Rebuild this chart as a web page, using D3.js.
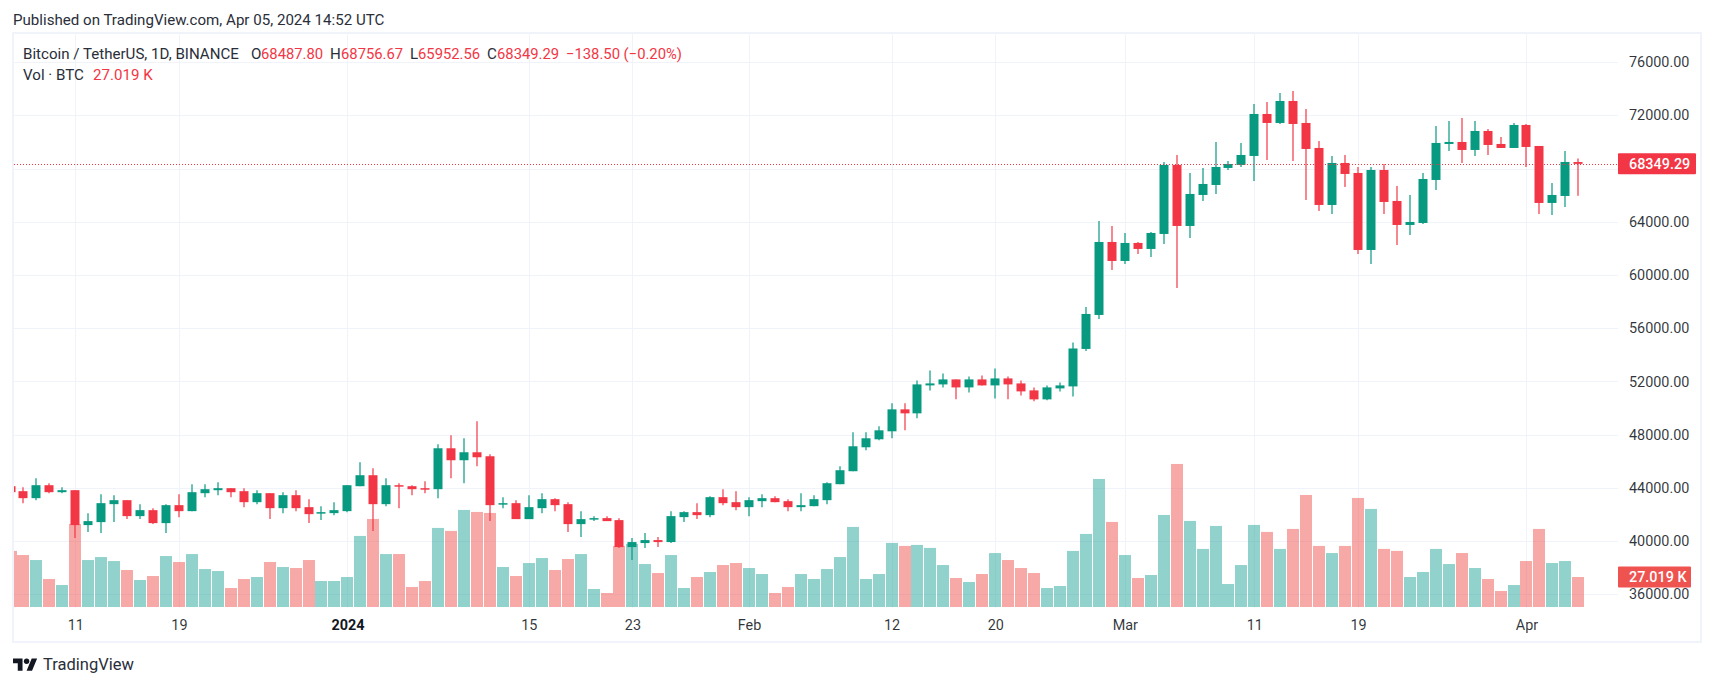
<!DOCTYPE html>
<html><head><meta charset="utf-8">
<script src="https://cdnjs.cloudflare.com/ajax/libs/d3/7.8.5/d3.min.js"></script>
<style>html,body{margin:0;padding:0;background:#fff;overflow:hidden}svg{display:block}text{font-family:Roboto,sans-serif}</style>
</head><body><svg id="c" width="1713" height="686"></svg>
<script>
const firstDay = "2023-12-06";
const opens = [
44125,43750,43225,44200,43675,43825,41200,41425,42775,43075,41875,42325,41350,42700,42250,43600,43825,43975,43750,42925,43600,42475,43450,42550,42100,42100,42250,44125,44950,42775,44200,44125,43975,
43900,46975,46075,46675,46375,42775,42850,41650,42475,43150,42775,41275,41650,41725,41575,39550,39850,40075,39925,41800,42175,41950,43300,42925,42550,43000,43225,43000,42550,42625,43075,44275,45250,
47050,47650,48250,49900,49600,51700,51775,52150,51550,52150,51700,52225,51850,51325,50650,51475,51625,
54440,56995,62480,61053,62406,61955,63082,68267,63683,66013,66764,68042,68267,68944,72100,71424,73077,71424,69545,65261,68418,67666,61879,67891,65562,63758,63908,67140,69846,69996,69395,70822,69846,69545,71273,69695,65412,65938,68487.80];
const highs = [
44150,44050,44725,44350,44050,43825,42100,43525,43450,43075,42775,42475,42775,43525,44275,44275,44425,43975,43975,43825,43600,43675,43825,43150,42625,42925,44200,45925,45475,44725,44350,44200,44500,
47275,47950,47725,49000,46525,43300,43075,43450,43600,43225,42925,42250,41875,41875,41725,40225,40600,40300,42250,42250,42850,43375,43900,43750,43300,43525,43375,43150,43600,43450,44425,45625,48175,
48175,48625,50350,50350,52075,52825,52600,52150,52375,52450,52975,52375,52075,51550,51700,51925,54925,
57595,64060,63683,63157,62480,63232,68493,69019,67666,68042,69996,68568,69921,72851,73002,73678,73828,72476,70071,68944,69019,68117,68117,68342,66689,66013,67666,71198,71574,71799,71574,70973,70371,71424,71348,69695,66915,69319,68756.67];
const lows = [
43650,42850,43075,43600,43600,40225,40675,40600,41425,41650,41650,41275,40600,41800,42250,43300,43450,43300,42550,42775,41650,42100,42250,41350,41575,41950,42175,44125,40750,42625,42475,43450,43600,
43225,44725,44350,45625,41500,42475,41650,41650,42100,42250,40675,40300,41500,41500,39475,38575,39475,39550,39850,41425,41650,41800,42700,42325,41875,42550,42925,42250,42250,42625,42775,44275,45250,
46825,47575,47725,48325,49225,51325,51550,50650,51175,51700,50725,50650,50950,50500,50575,51250,50875,
54290,56695,60376,60827,61579,61353,62330,59024,62781,65562,66088,67891,68117,67065,68643,71348,68568,65637,64810,64585,66614,61579,60827,64585,62255,63007,63833,66388,69319,68418,68944,69019,69545,69545,68117,64585,64510,65111,65952.56];
const closes = [
43675,43225,44200,43675,43825,41200,41500,42850,43075,41875,42325,41350,42700,42250,43675,43900,43975,43675,42925,43600,42475,43450,42475,42025,42175,42325,44200,44950,42775,44200,44125,43900,43900,
46975,46075,46675,46300,42700,42850,41650,42550,43150,42700,41275,41650,41725,41500,39550,39925,40075,39925,41875,42175,41950,43300,42850,42550,43075,43225,42925,42550,42700,43150,44350,45325,47125,
47725,48325,49900,49600,51775,51850,52150,51550,52150,51700,52225,51775,51250,50650,51550,51700,54475,
57070,62480,61053,62406,61955,63157,68267,63683,66088,66839,68117,68342,69019,72100,71424,73077,71348,69470,65261,68418,67591,61879,67891,65487,63758,63984,67215,69921,69996,69395,70822,69770,69545,71273,69620,65412,66013,68493,68349.29];
const volumes = [
50.5,46.8,42.3,25.2,19.8,74.8,42.3,45.0,41.4,33.3,24.3,27.9,45.9,40.5,47.7,34.2,32.4,17.1,25.2,27.0,40.5,36.0,35.1,42.3,23.4,23.4,27.0,64.0,79.3,47.7,47.7,18.0,23.4,
71.2,68.5,87.4,85.6,84.7,36.0,27.9,39.6,44.1,33.3,43.2,47.7,16.2,12.6,55.0,56.8,38.7,30.6,46.8,17.1,27.0,31.5,37.8,39.6,35.1,29.7,12.6,18.0,29.7,25.2,34.2,45.0,72.1,
25.2,29.7,57.7,55.0,55.9,53.2,37.8,26.1,22.5,29.7,48.6,42.3,35.1,30.6,17.1,18.9,50.5,
65.8,115.3,76.6,46.8,26.1,28.8,82.9,128.8,77.5,52.3,73.0,20.7,37.8,73.9,67.6,52.3,70.3,100.9,55.0,48.6,55.0,98.2,88.3,52.3,50.5,27.0,31.5,52.3,38.7,48.6,35.1,25.2,14.4,19.8,41.4,70.3,39.6,41.4,27.019];
const priceTicks = [36000,40000,44000,48000,52000,56000,60000,64000,68000,72000,76000];
const timeTickDates = ["2023-12-11","2023-12-19","2024-01-01","2024-01-15","2024-01-23","2024-02-01","2024-02-12","2024-02-20","2024-03-01","2024-03-11","2024-03-19","2024-04-01"];
const timeTickLabels = ["11","19","2024","15","23","Feb","12","20","Mar","11","19","Apr"];
const lastClose = 68349.29;
const lastVolumeLabel = "27.019 K";

const GREEN="#089981", RED="#F23645", GRID="#F0F3FA", INK="#131722";
const frame={l:14,r:1700,t:34,b:641,axis:1618};
const svg=d3.select("#c");
const day=86400000, t0=Date.parse(firstDay+"T00:00:00Z");
const dateOf=i=>new Date(t0+i*day);
const x=d3.scaleUtc().domain([new Date("2023-12-11T00:00:00Z"),new Date("2024-04-05T00:00:00Z")]).range([75.3,1578.3]);
const y=d3.scaleLinear().domain([36000,72000]).range([594.3,115.3]);
const v=d3.scaleLinear().domain([0,27.019]).range([607,577]);
const bars=d3.range(opens.length).map(i=>({d:dateOf(i),o:opens[i],h:highs[i],l:lows[i],c:closes[i],v:volumes[i],up:closes[i]>=opens[i]}));

svg.append("defs").append("clipPath").attr("id","plot").append("rect")
  .attr("x",frame.l).attr("y",frame.t).attr("width",frame.axis-frame.l).attr("height",frame.b-frame.t);

const tickDates=timeTickDates.map(s=>new Date(s+"T00:00:00Z"));
const gy=svg.append("g").attr("transform",`translate(${frame.axis},0)`)
  .call(d3.axisRight(y).tickValues(priceTicks).tickFormat(d=>d3.format(".2f")(d)).tickSize(0).tickPadding(11));
gy.select(".domain").remove();
gy.selectAll("text").attr("fill",INK).attr("fill-opacity",.88).style("font-size","14.4px").style("font-family","Roboto,sans-serif");
gy.selectAll(".tick").filter(d=>d===68000).select("text").remove(); // hidden behind the last-price tag in the reference
gy.selectAll(".tick").append("line").attr("x1",frame.l-frame.axis).attr("x2",0).attr("stroke",GRID).attr("stroke-width",1).attr("shape-rendering","crispEdges");
const gx=svg.append("g").attr("transform",`translate(0,${frame.b})`)
  .call(d3.axisBottom(x).tickValues(tickDates).tickFormat((d,i)=>timeTickLabels[i]).tickSize(0).tickPadding(0));
gx.select(".domain").remove();
gx.selectAll("text").attr("y",-16).attr("dy",".35em").attr("fill",INK).attr("fill-opacity",.88).style("font-size","14.4px").style("font-family","Roboto,sans-serif")
  .filter((d,i)=>timeTickLabels[i]==="2024").attr("fill-opacity",1).style("font-weight","700");
gx.selectAll(".tick").append("line").attr("y1",frame.t-frame.b).attr("y2",608-frame.b).attr("stroke",GRID).attr("stroke-width",1).attr("shape-rendering","crispEdges");

const plot=svg.append("g").attr("clip-path","url(#plot)");
plot.selectAll("rect.vol").data(bars).join("rect").attr("class","vol")
  .attr("x",d=>Math.round(x(d.d))-6).attr("width",12)
  .attr("y",d=>v(d.v)).attr("height",d=>607-v(d.v))
  .attr("fill",d=>d.up?"#26A69A":"#EF5350").attr("fill-opacity",.5);
plot.selectAll("line.wick").data(bars).join("line").attr("class","wick")
  .attr("x1",d=>Math.round(x(d.d))).attr("x2",d=>Math.round(x(d.d)))
  .attr("y1",d=>y(d.h)).attr("y2",d=>y(d.l))
  .attr("stroke",d=>d.up?GREEN:RED).attr("stroke-width",1.2);
plot.selectAll("rect.body").data(bars).join("rect").attr("class","body")
  .attr("x",d=>Math.round(x(d.d))-4.5).attr("width",9)
  .attr("y",d=>y(Math.max(d.o,d.c))).attr("height",d=>Math.max(1.5,Math.abs(y(d.o)-y(d.c))))
  .attr("fill",d=>d.up?GREEN:RED);
const ly=Math.round(y(lastClose))+.5;
plot.append("line").attr("x1",frame.l).attr("x2",frame.axis).attr("y1",ly).attr("y2",ly)
  .attr("stroke",RED).attr("stroke-width",1).attr("stroke-dasharray","1 2");

svg.append("rect").attr("x",frame.l-1).attr("y",frame.t-1).attr("width",frame.r-frame.l+2).attr("height",frame.b-frame.t+2)
  .attr("fill","none").attr("stroke",GRID).attr("stroke-width",2);

function tag(yc,label,fill,w){
  svg.append("rect").attr("x",frame.axis).attr("y",yc-10.5).attr("width",w).attr("height",21).attr("rx",1).attr("fill",fill);
  svg.append("text").attr("x",frame.axis+11).attr("y",yc).attr("dy",".35em").attr("fill","#fff").style("font-size","14.4px").style("font-weight","500").text(label);
}
tag(y(lastClose),d3.format(".2f")(lastClose),RED,78);
tag(v(volumes[volumes.length-1]),lastVolumeLabel,"#EF5350",73);

function t(x0,yc,s,fill,size){return svg.append("text").attr("x",x0).attr("y",yc).attr("dy",".35em").attr("fill",fill).style("font-size",size+"px").text(s);}
const TXT="#2A2E39", LEG=15.1;
t(13,20,"Published on TradingView.com, Apr 05, 2024 14:52 UTC",TXT,LEG);
t(23,54,"Bitcoin / TetherUS, 1D, BINANCE",TXT,LEG);
[[251,"O"],[330,"H"],[410,"L"],[487,"C"]].forEach(a=>t(a[0],54,a[1],TXT,LEG));
[[261,"68487.80"],[341,"68756.67"],[418,"65952.56"],[497,"68349.29"],[566,"−138.50 (−0.20%)"]].forEach(a=>t(a[0],54,a[1],RED,LEG-.3));
t(23,75,"Vol · BTC",TXT,LEG);
t(93,75,"27.019 K",RED,LEG);
const logo=svg.append("g").attr("transform","translate(13,654.5) scale(0.68)").attr("fill",INK);
logo.append("path").attr("d","M14 6H0v7h7v11h7V6zM28 24h-8l7.5-18h8L28 24z");
logo.append("circle").attr("cx",20).attr("cy",10).attr("r",4);
t(43,664,"TradingView",TXT,16.5);
</script>
</body></html>
